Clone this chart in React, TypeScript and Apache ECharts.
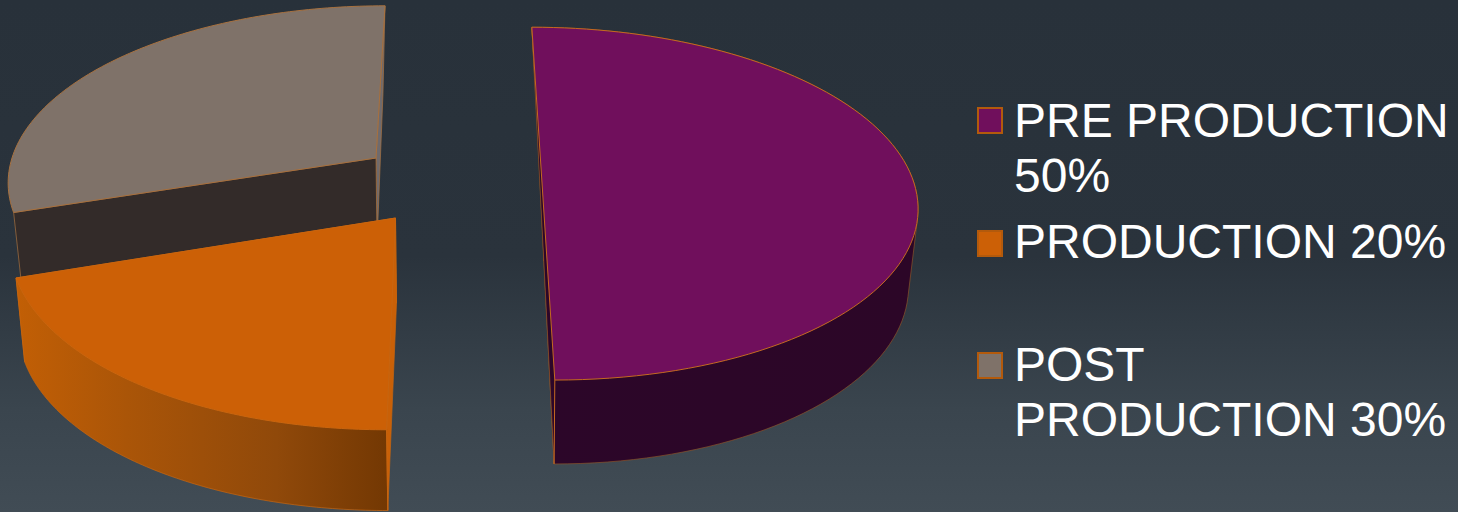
import React, { useEffect, useRef } from "react";
import * as echarts from "echarts";

const labels = ["PRE PRODUCTION\n50%", "PRODUCTION 20%", "POST\nPRODUCTION 30%"];
const values = [50, 20, 30];
const faceColors = ["#700f5c", "#cc6006", "#7f7269"];

const total = values.reduce((a, b) => a + b, 0);
const startShare = values.map((_, i) => values.slice(0, i).reduce((a, b) => a + b, 0) / total);

const K = 0.117;
type Geo = {
  ax: number; ay: number; rx: number; ry: number; shear: number;
  bx: number; by: number; scaleX: number; scaleY: number; bShear: number; outerWall: boolean;
};
const geometry: Geo[] = [
  { ax: 542, ay: 183, rx: 372, ry: 174, shear: 0.065, bx: 544, by: 261, scaleX: 0.97, scaleY: 1.03, bShear: 0.05, outerWall: true },
  { ax: 395.5, ay: 218, rx: 382, ry: 187, shear: -0.042, bx: 396.5, by: 303, scaleX: 0.98, scaleY: 0.98, bShear: -0.042, outerWall: true },
  { ax: 376, ay: 158, rx: 364, ry: 170, shear: -0.059, bx: 377, by: 243, scaleX: 0.98, scaleY: 0.98, bShear: -0.04, outerWall: false },
];
const wallFill: any[] = [
  { type: "linear", x: 0, y: 0, x2: 1, y2: 0, colorStops: [{ offset: 0, color: "#2c0629" }, { offset: 1, color: "#2c0627" }] },
  { type: "linear", x: 0, y: 0, x2: 1, y2: 0, colorStops: [{ offset: 0, color: "#c25f05" }, { offset: 0.3, color: "#aa5508" }, { offset: 0.7, color: "#90490a" }, { offset: 1, color: "#733803" }] },
  "#6e6258",
];
const startCutFill = ["#35062f", "#c96007", "#332b29"];
const endCutFill = ["#35062f", "#c96007", "#6f6a6c"];
const edgeColors = ["#c46a20", "#c9650f", "#a8713f"];
const wallEdgeColors = ["#8a5228", "#c9650f", "#a8713f"];

function project(g: Geo, theta: number, bottom: boolean): number[] {
  const X = Math.sin(theta);
  const Y = -Math.cos(theta);
  const w = 1 - K * Y;
  const sx = bottom ? g.scaleX : 1;
  const sy = bottom ? g.scaleY : 1;
  const py = (g.ry * sy * Y) / w;
  const ox = bottom ? g.bx : g.ax;
  const oy = bottom ? g.by : g.ay;
  return [ox + (g.rx * sx * X) / w + (bottom ? g.bShear : g.shear) * py, oy + py];
}

function hull(points: number[][]): number[][] {
  const pts = points.slice().sort((a, b) => a[0] - b[0] || a[1] - b[1]);
  const cross = (o: number[], a: number[], b: number[]) =>
    (a[0] - o[0]) * (b[1] - o[1]) - (a[1] - o[1]) * (b[0] - o[0]);
  const half = (list: number[][]) => {
    const out: number[][] = [];
    for (const p of list) {
      while (out.length >= 2 && cross(out[out.length - 2], out[out.length - 1], p) <= 0) out.pop();
      out.push(p);
    }
    out.pop();
    return out;
  };
  return [...half(pts), ...half(pts.slice().reverse())];
}

function renderSlice(i: number) {
  return (_params: any, api: any) => {
    const g = geometry[i];
    const from = startShare[i] * Math.PI * 2;
    const to = from + (api.value(0) / total) * Math.PI * 2;
    const steps = 96;
    const thetas: number[] = [];
    for (let n = 0; n <= steps; n++) thetas.push(from + ((to - from) * n) / steps);
    const topArc = thetas.map((t) => project(g, t, false));
    const botArc = thetas.map((t) => project(g, t, true));
    const apexTop = [g.ax, g.ay];
    const apexBot = [g.bx, g.by];
    const poly = (points: number[][], fill: any, lineWidth: number, stroke: string) => ({
      type: "polygon",
      shape: { points },
      style: { fill, stroke, lineWidth },
    });
    const children: any[] = [];
    children.push(poly([topArc[steps], apexTop, apexBot, botArc[steps]], endCutFill[i], 0.7, edgeColors[i]));
    children.push(poly([topArc[0], apexTop, apexBot, botArc[0]], startCutFill[i], 0.7, edgeColors[i]));
    if (g.outerWall) {
      children.push(poly(hull([...topArc, ...botArc]), wallFill[i], 0.7, wallEdgeColors[i]));
      // front vertical edge where the outer wall meets the cut wall
      const k = i === 0 ? steps : 0;
      children.push({
        type: "line",
        shape: { x1: topArc[k][0], y1: topArc[k][1], x2: botArc[k][0], y2: botArc[k][1] },
        style: { stroke: edgeColors[i], lineWidth: 1 },
      });
    }
    children.push(poly([apexTop, ...topArc], faceColors[i], 1, edgeColors[i]));
    return { type: "group", children };
  };
}

const legendMarks = [108, 231, 353];
const legendTexts = [93, 214, 337];

export default function App() {
  const ref = useRef<HTMLDivElement>(null);
  useEffect(() => {
    document.body.style.margin = "0";
    document.body.style.overflow = "hidden";
    const chart = echarts.init(ref.current!, undefined, { renderer: "svg" });
    const zOrder = [3, 2, 1];
    chart.setOption({
      animation: false,
      backgroundColor: {
        type: "linear", x: 0, y: 0, x2: 0, y2: 1,
        colorStops: [
          { offset: 0, color: "#28313a" },
          { offset: 0.5, color: "#2a333c" },
          { offset: 0.8, color: "#3a454e" },
          { offset: 1, color: "#414c55" },
        ],
      },
      series: values.map((v, i) => ({
        type: "custom",
        name: labels[i],
        coordinateSystem: "none",
        silent: true,
        z: zOrder[i],
        data: [[v]],
        renderItem: renderSlice(i),
      })),
      graphic: labels.flatMap((label, i) => [
        {
          type: "rect",
          x: 978,
          y: legendMarks[i],
          shape: { x: 0, y: 0, width: 24, height: 25 },
          style: { fill: faceColors[i], stroke: "#b35a0c", lineWidth: 2 },
          z: 10,
        },
        {
          type: "text",
          x: 1014,
          y: legendTexts[i],
          style: {
            text: label,
            fill: "#ffffff",
            fontSize: 48,
            fontFamily: "Liberation Sans",
            lineHeight: 55,
          },
          z: 10,
        },
      ]),
    });
    return () => chart.dispose();
  }, []);
  return (
    <div
      ref={ref}
      style={{ position: "absolute", left: 0, top: 0, width: 1458, height: 512 }}
    />
  );
}
